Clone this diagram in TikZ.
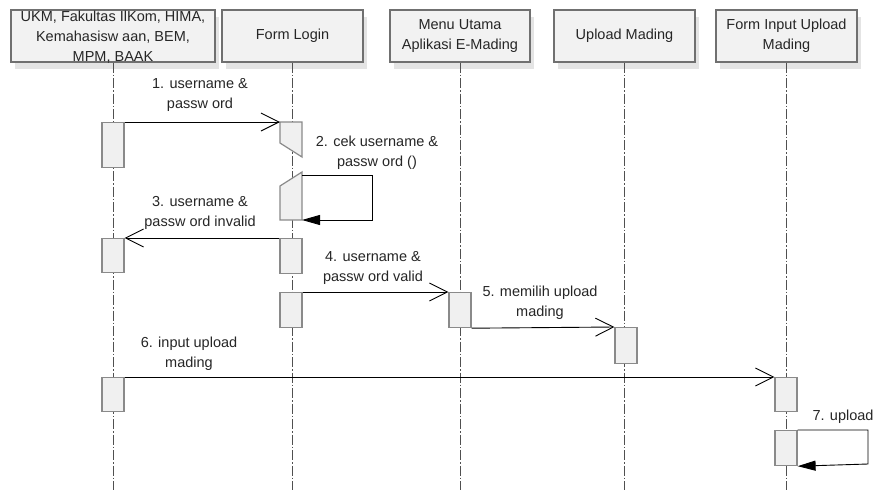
\documentclass[tikz,border=0pt]{standalone}
\usepackage{fontspec}
\setmainfont{Liberation Sans}
\usetikzlibrary{arrows.meta,shadows}
\definecolor{boxline}{HTML}{707070}
\definecolor{boxfill}{HTML}{F2F2F2}
\definecolor{shade}{HTML}{E4E4E4}
\definecolor{actline}{HTML}{8A8A8A}
\definecolor{actfill}{HTML}{F0F0F0}
\definecolor{lifecol}{HTML}{505050}
\definecolor{ink}{HTML}{262626}
\begin{document}
\begin{tikzpicture}[x=1pt,y=-1pt,
  every node/.style={font=\fontsize{14.5}{20}\selectfont, text=ink},
  headbox/.style={draw=boxline, line width=1.4pt, fill=boxfill, minimum height=52pt,
    inner sep=0pt, align=center,
    drop shadow={shadow xshift=4pt, shadow yshift=-7pt, fill=shade, opacity=1}},
  lifeline/.style={draw=lifecol, line width=0.7pt, dash pattern=on 10pt off 2pt on 1.5pt off 2pt},
  act/.style={draw=actline, line width=1.2pt, fill=actfill, minimum width=22pt,
    inner sep=0pt, anchor=north},
  actpath/.style={draw=actline, line width=1.2pt, fill=actfill, line join=miter},
  msg/.style={draw=black, line width=0.9pt, -{Straight Barb[length=18pt,width=18pt]}},
  selfmsg/.style={draw=black, line width=0.9pt, -{Triangle[length=18pt,width=10pt]}},
  lbl/.style={align=center, inner sep=0pt}]

\useasboundingbox (0,0) rectangle (876,490);
\fill[white] (0,0) rectangle (876,490);

% participants
\node[headbox, minimum width=204pt] (h1) at (113,36) {};
\node[lbl] (t1) at (113,37) {UKM, Fakultas IlKom, HIMA,\\Kemahasisw aan, BEM,\\MPM, BAAK};
\node[headbox, minimum width=141pt] (h2) at (292.5,36) {Form Login};
\node[headbox, minimum width=140pt] (h3) at (460,36) {Menu Utama\\Aplikasi E-Mading};
\node[headbox, minimum width=141pt] (h4) at (624.5,36) {Upload Mading};
\node[headbox, minimum width=141pt] (h5) at (786.5,36) {Form Input Upload\\Mading};

% lifelines
\coordinate (e1) at (113,490);
\coordinate (e2) at (292.5,490);
\coordinate (e3) at (460,490);
\coordinate (e4) at (624.5,490);
\coordinate (e5) at (786.5,490);
\draw[lifeline] (h1.south) -- (e1);
\draw[lifeline] (h2.south) -- (e2);
\draw[lifeline] (h3.south) -- (e3);
\draw[lifeline] (h4.south) -- (e4);
\draw[lifeline] (h5.south) -- (e5);

% activations
\node[act, minimum height=45pt] (a1) at (113,122) {};
\node[act, minimum height=34pt] (a2) at (113,238) {};
\node[act, minimum height=34pt] (a3) at (113,377) {};
\draw[actpath] (280,122) coordinate (b1nw) -- (302,122) -- (302,157) -- (280,143) -- cycle;
\draw[actpath] (280,186) -- (302,172) -- (302,220) coordinate (b2se) -- (280,220) -- cycle;
\coordinate (b2r) at (302,175);
\node[act, minimum height=35pt] (b3) at (291,238) {};
\node[act, minimum height=35pt] (b4) at (291,292) {};
\node[act, minimum height=35pt] (c1) at (460,292) {};
\node[act, minimum height=36pt] (d1) at (626,327) {};
\node[act, minimum height=34pt] (f1) at (786,377) {};
\node[act, minimum height=35pt] (f2) at (786,430) {};

% messages
\draw[msg] (a1.north east) -- (b1nw);
\draw[selfmsg] (b2r) -- (372,175) -- (372,220) -- (b2se);
\draw[msg] (b3.north west) -- (a2.north east);
\draw[msg] (b4.north east) -- (c1.north west);
\draw[msg] (c1.south east) -- (d1.north west);
\draw[msg] (a3.north east) -- (f1.north west);
\draw[selfmsg] (f2.north east) -- (868,430) -- (868,464) -- (f2.south east);

% message labels
\node[lbl] (m1) at (200,95) {1. username \&\\passw ord};
\node[lbl] (m2) at (377,152.5) {2. cek username \&\\passw ord ()};
\node[lbl] (m3) at (200,213) {3. username \&\\passw ord invalid};
\node[lbl] (m4) at (373,267.5) {4. username \&\\passw ord valid};
\node[lbl] (m5) at (540,302.5) {5. memilih upload\\mading};
\node[lbl] (m6) at (189,354) {6. input upload\\mading};
\node[lbl] (m7) at (843,417) {7. upload};
\end{tikzpicture}
\end{document}
